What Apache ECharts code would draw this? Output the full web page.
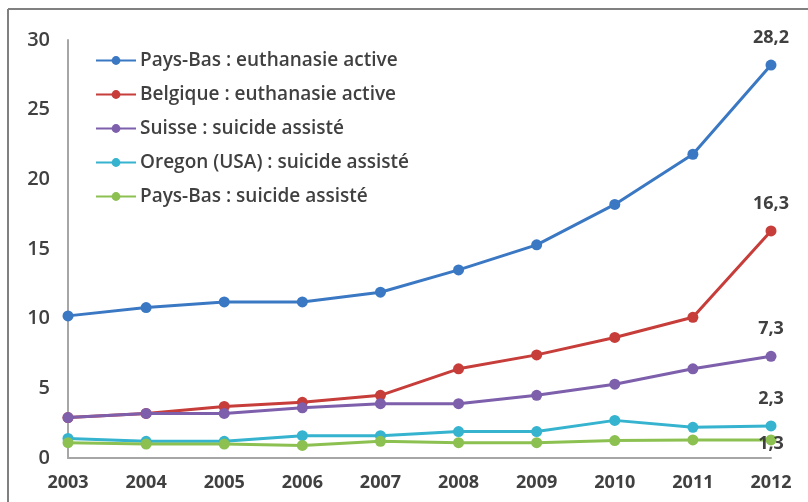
<!DOCTYPE html>
<html>
<head>
<meta charset="utf-8">
<script src="https://cdn.jsdelivr.net/npm/echarts@6/dist/echarts.min.js"></script>
<style>
  html, body { margin: 0; padding: 0; background: #fff; }
  #chart { width: 808px; height: 502px; }
</style>
</head>
<body>
<div id="chart"></div>
<script>
const years = ["2003", "2004", "2005", "2006", "2007", "2008", "2009", "2010", "2011", "2012"];
const seriesNames = [
  "Pays-Bas : euthanasie active",
  "Belgique : euthanasie active",
  "Suisse : suicide assisté",
  "Oregon (USA) : suicide assisté",
  "Pays-Bas : suicide assisté"
];
const nlEuthanasia = [10.2, 10.8, 11.2, 11.2, 11.9, 13.5, 15.3, 18.2, 21.8, 28.2];
const beEuthanasia = [2.9, 3.2, 3.7, 4.0, 4.5, 6.4, 7.4, 8.65, 10.1, 16.3];
const chAssisted = [2.9, 3.2, 3.2, 3.6, 3.9, 3.9, 4.5, 5.3, 6.4, 7.3];
const orAssisted = [1.4, 1.2, 1.2, 1.6, 1.6, 1.9, 1.9, 2.7, 2.2, 2.3];
const nlAssisted = [1.1, 1.0, 1.0, 0.9, 1.2, 1.1, 1.1, 1.25, 1.3, 1.3];
const yTicks = [0, 5, 10, 15, 20, 25, 30];

const colors = ["#3b78c3", "#c63d3a", "#7d5fac", "#35b3cf", "#8cc152"];
const allValues = [nlEuthanasia, beEuthanasia, chAssisted, orAssisted, nlAssisted];
const font = "'Open Sans', sans-serif";
const textColor = "#404040";

const chart = echarts.init(document.getElementById("chart"), null, { renderer: "canvas" });

const series = allValues.map((vals, i) => ({
  name: seriesNames[i],
  type: "line",
  data: vals,
  symbol: "circle",
  symbolSize: 11,
  lineStyle: { width: 3, color: colors[i] },
  itemStyle: { color: colors[i] },
  label: {
    show: true,
    position: i === 4 ? "inside" : "top",
    distance: 13,
    offset: i === 4 ? [0, 4] : [0, 0],
    color: textColor,
    fontFamily: font,
    fontWeight: "bold",
    fontSize: 18,
    formatter: (p) => p.dataIndex === vals.length - 1 ? String(p.value).replace(".", ",") : ""
  },
  emphasis: { disabled: true }
}));

chart.setOption({
  animation: false,
  color: colors,
  textStyle: { fontFamily: font },
  graphic: [
    { type: "line", shape: { x1: 8, y1: 9, x2: 808, y2: 9 }, style: { stroke: "#808080", lineWidth: 2 } },
    { type: "line", shape: { x1: 8, y1: 9, x2: 8, y2: 502 }, style: { stroke: "#808080", lineWidth: 2 } }
  ],
  legend: {
    orient: "vertical",
    left: 90,
    top: 43,
    itemGap: 9,
    itemWidth: 40,
    itemHeight: 11,
    textStyle: { color: textColor, fontSize: 19, fontWeight: 600, fontFamily: font, lineHeight: 25, padding: [0, 0, 0, -1] },
    data: seriesNames
  },
  grid: { left: 68, right: 37, top: 40, bottom: 44, containLabel: false },
  xAxis: {
    type: "category",
    data: years,
    boundaryGap: false,
    axisLine: { lineStyle: { color: "#a6a6a6", width: 2 } },
    axisTick: { show: false },
    axisLabel: { color: textColor, fontSize: 18, fontWeight: "bold", margin: 16, fontFamily: font }
  },
  yAxis: {
    type: "value",
    min: yTicks[0],
    max: yTicks[yTicks.length - 1],
    interval: 5,
    axisLine: { show: true, lineStyle: { color: "#a6a6a6", width: 2 } },
    axisTick: { show: false },
    splitLine: { show: false },
    axisLabel: { color: textColor, fontSize: 20, fontWeight: 600, margin: 18, fontFamily: font }
  },
  series: series
});
</script>
</body>
</html>
